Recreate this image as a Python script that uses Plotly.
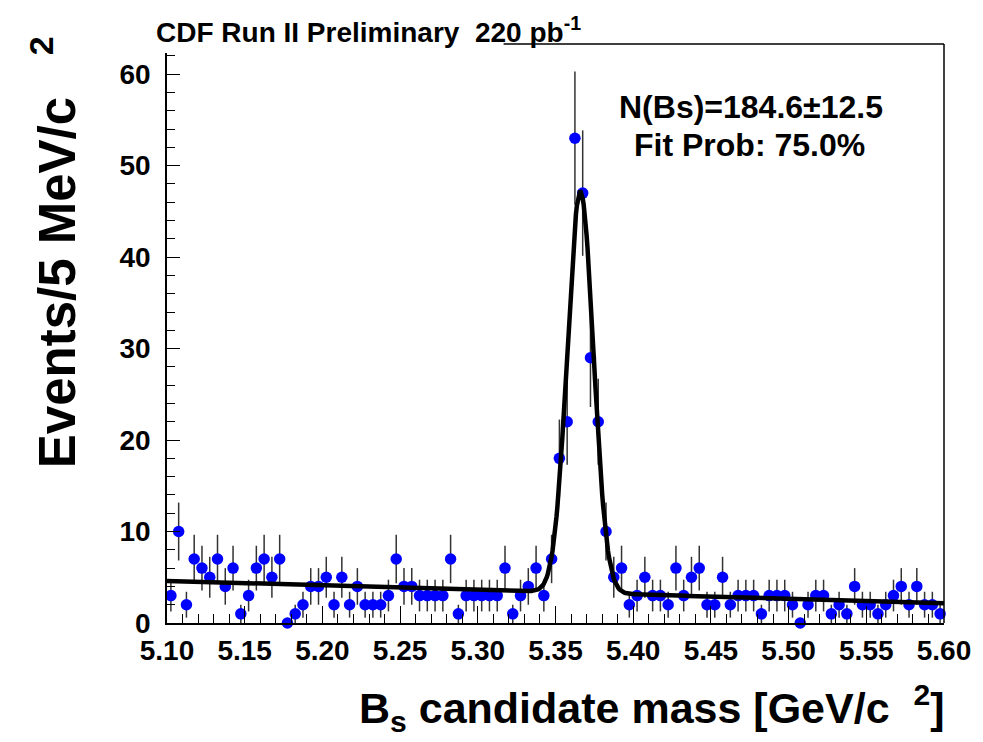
import math
import numpy as np
import plotly.graph_objects as go

# ---------------- data ----------------
bin_width = 0.005
mass_min = 5.10
counts = [3, 10, 2, 7, 6, 5, 7, 4, 6, 1,
          3, 6, 7, 5, 7, 0, 1, 2, 4, 4,
          5, 2, 5, 2, 4, 2, 2, 2, 3, 7,
          4, 4, 3, 3, 3, 3, 7, 1, 3, 3,
          3, 3, 3, 6, 1, 3, 4, 6, 3, 7,
          18, 22, 53, 47, 29, 22, 10, 5, 6, 2,
          3, 5, 3, 3, 2, 6, 3, 5, 6, 2,
          2, 5, 2, 3, 3, 3, 1, 3, 3, 3,
          2, 0, 2, 3, 3, 1, 2, 1, 4, 2,
          2, 1, 2, 3, 4, 2, 4, 2, 2, 1]
bin_centers = [round(mass_min + bin_width * (i + 0.5), 4) for i in range(len(counts))]
errors = [math.sqrt(c) for c in counts]

# fit parameters (Gaussian signal + linear background)
n_signal = 184.6
fit_mean = 5.366
fit_sigma = 0.0084
bkg_at_min = 4.6
bkg_slope = -4.88

x_ticks = [5.10, 5.15, 5.20, 5.25, 5.30, 5.35, 5.40, 5.45, 5.50, 5.55, 5.60]
x_tick_text = ["5.10", "5.15", "5.20", "5.25", "5.30", "5.35", "5.40", "5.45", "5.50", "5.55", "5.60"]
y_ticks = [0, 10, 20, 30, 40, 50, 60]

# ---------------- geometry ----------------
W, H = 983, 742
L, R, T, B = 167.3, 954.3, 44.0, 622.7
pw, ph = R - L, B - T


def px(x):
    return (x - L) / pw


def py(y):
    return (B - y) / ph


def fit_func(m):
    g = n_signal * bin_width / (math.sqrt(2 * math.pi) * fit_sigma)
    return g * math.exp(-0.5 * ((m - fit_mean) / fit_sigma) ** 2) + bkg_at_min + bkg_slope * (m - mass_min)


fit_x = np.linspace(5.10, 5.60, 801)
fit_y = [fit_func(m) for m in fit_x]

FONT = "Liberation Sans, Arial, sans-serif"

fig = go.Figure()
fig.add_trace(go.Scatter(
    x=bin_centers, y=counts, mode="markers",
    marker=dict(color="#0000ff", size=11.5, line=dict(width=0)),
    error_y=dict(type="data", array=errors, visible=True, color="#333333", thickness=1.5, width=0),
    cliponaxis=False, showlegend=False,
))
fig.add_trace(go.Scatter(
    x=fit_x, y=fit_y, mode="lines",
    line=dict(color="black", width=4.5),
    showlegend=False,
))

fig.update_layout(
    width=W, height=H,
    margin=dict(l=L, r=W - R, t=T, b=H - B, pad=0),
    paper_bgcolor="white", plot_bgcolor="white",
    font=dict(family=FONT, color="black"),
    showlegend=False,
)
fig.update_xaxes(
    range=[5.10, 5.60], tickvals=x_ticks, ticktext=x_tick_text,
    ticks="inside", ticklen=17, tickwidth=1.2, tickcolor="black",
    minor=dict(dtick=0.01, tick0=5.10, ticks="inside", ticklen=9, tickwidth=1.2, tickcolor="black"),
    showline=True, linecolor="black", linewidth=1.5, mirror=False,
    showgrid=False, zeroline=False,
    tickfont=dict(family=FONT, size=28, weight="bold"),
    ticklabelstandoff=2,
)
fig.update_yaxes(
    range=[0, 63.3], tickvals=y_ticks,
    ticks="inside", ticklen=13, tickwidth=1.2, tickcolor="black",
    minor=dict(dtick=2, tick0=0, ticks="inside", ticklen=8, tickwidth=1.2, tickcolor="black"),
    showline=True, linecolor="black", linewidth=1.5, mirror=False,
    showgrid=False, zeroline=False,
    tickfont=dict(family=FONT, size=28, weight="bold"),
    ticklabelstandoff=9,
)

# frame: partial top line (title box covers left part) and right line
fig.add_shape(type="line", xref="paper", yref="paper", x0=px(508), x1=1, y0=1, y1=1,
              line=dict(color="black", width=1.5))
fig.add_shape(type="line", xref="paper", yref="paper", x0=1, x1=1, y0=0, y1=1,
              line=dict(color="black", width=1.5))
# white title box over the top-left of the frame
fig.add_shape(type="rect", xref="paper", yref="paper", x0=px(150), x1=px(508), y0=py(53), y1=py(8),
              fillcolor="white", line=dict(width=0), layer="above")

annots = [
    dict(text="CDF Run II Preliminary  220 pb<sup>-1</sup>", x=px(154), y=py(30), xanchor="left", yanchor="middle",
         font=dict(size=28, weight="bold")),
    dict(text="N(Bs)=184.6\u00b112.5", x=px(623), y=py(107), xanchor="left", yanchor="middle",
         font=dict(size=32, weight="bold")),
    dict(text="Fit Prob: 75.0%", x=px(638), y=py(145), xanchor="left", yanchor="middle",
         font=dict(size=32, weight="bold")),
    dict(text="Events/5 MeV/c", x=px(56), y=py(283), xanchor="center", yanchor="middle",
         textangle=-90, font=dict(size=51, weight="bold")),
    dict(text="2", x=px(40), y=py(46), xanchor="center", yanchor="middle",
         textangle=-90, font=dict(size=34, weight="bold")),
    dict(text="B<sub>s</sub> candidate mass [GeV/c&nbsp;&nbsp;<sup>2</sup>]", x=px(957), y=py(708),
         xanchor="right", yanchor="middle", font=dict(size=43, weight="bold")),
]
for a in annots:
    a.update(xref="paper", yref="paper", showarrow=False)
    a["font"].update(family=FONT, color="black")
    fig.add_annotation(**a)

fig.write_html("out.html")
